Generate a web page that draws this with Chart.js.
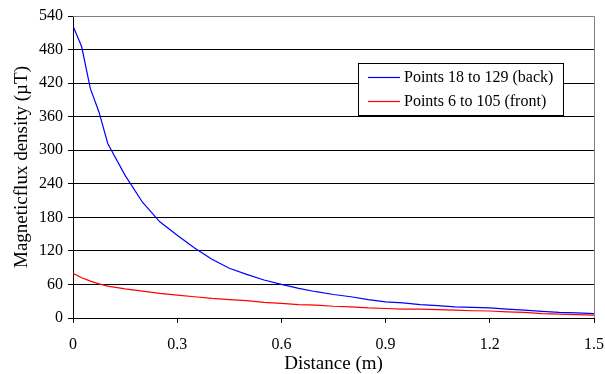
<!DOCTYPE html>
<html>
<head>
<meta charset="utf-8">
<script src="https://cdn.jsdelivr.net/npm/chart.js@4"></script>
<style>
  html, body { margin: 0; padding: 0; background: #fff; }
  #wrap { width: 605px; height: 374px; }
</style>
</head>
<body>
<div id="wrap"><canvas id="myChart" width="605" height="374"></canvas></div>
<script>
// values
const distance = [0, 0.025, 0.05, 0.075, 0.1, 0.15, 0.2, 0.25, 0.3, 0.35, 0.4, 0.45, 0.5, 0.55, 0.6, 0.65, 0.7, 0.75, 0.8, 0.85, 0.9, 0.95, 1.0, 1.05, 1.1, 1.15, 1.2, 1.25, 1.3, 1.35, 1.4, 1.45, 1.5];
const backValues = [522, 485, 410, 368, 312, 255, 207, 172, 148, 125, 105, 89, 78, 68, 60, 53, 47, 42, 38, 33, 29, 27, 24, 22, 20, 19, 18, 16, 14, 12, 10, 9, 8];
const frontValues = [80, 72, 66, 61, 57, 52, 48, 44, 41, 38, 35, 33, 31, 28, 26, 24, 23, 21, 20, 18, 17, 16, 16, 15, 14, 13, 12.5, 11, 10, 8, 7, 6, 5];
const seriesNames = ["Points 18 to 129 (back)", "Points 6 to 105 (front)"];
const seriesColors = ["#0000ff", "#ff0000"];
const yTicks = [0, 60, 120, 180, 240, 300, 360, 420, 480, 540];
const xTicks = [0, 0.3, 0.6, 0.9, 1.2, 1.5];

const font = "Liberation Serif";

function toPoints(vals) {
  return vals.map((v, i) => ({ x: distance[i], y: v }));
}

// frame on top/right and legend box inside the plot
const framePlugin = {
  id: "frame",
  afterDraw(chart) {
    const ctx = chart.ctx;
    const a = chart.chartArea;
    ctx.save();
    ctx.strokeStyle = "#808080";
    ctx.lineWidth = 1;
    ctx.beginPath();
    ctx.moveTo(a.left, Math.round(a.top) + 0.5);
    ctx.lineTo(Math.round(a.right) + 0.5, Math.round(a.top) + 0.5);
    ctx.lineTo(Math.round(a.right) + 0.5, a.bottom);
    ctx.stroke();

    // legend
    const bx = 358.5, by = 63.5, bw = 205, bh = 52;
    ctx.fillStyle = "#fff";
    ctx.fillRect(bx, by, bw, bh);
    ctx.strokeStyle = "#000";
    ctx.strokeRect(bx, by, bw, bh);
    ctx.font = "16px '" + font + "'";
    ctx.textBaseline = "middle";
    seriesNames.forEach((name, i) => {
      const yy = by + 14 + i * 24;
      ctx.strokeStyle = seriesColors[i];
      ctx.lineWidth = 1.2;
      ctx.beginPath();
      ctx.moveTo(368, yy);
      ctx.lineTo(400, yy);
      ctx.stroke();
      ctx.fillStyle = "#000";
      ctx.fillText(name, 404, yy);
    });
    ctx.restore();
  }
};

new Chart("myChart", {
  type: "line",
  data: {
    datasets: [
      { label: seriesNames[0], data: toPoints(backValues), borderColor: seriesColors[0], borderWidth: 1.2, pointRadius: 0, tension: 0 },
      { label: seriesNames[1], data: toPoints(frontValues), borderColor: seriesColors[1], borderWidth: 1.2, pointRadius: 0, tension: 0 }
    ]
  },
  options: {
    responsive: false,
    animation: false,
    layout: { padding: { top: 16, right: 11, left: 0, bottom: 0 } },
    plugins: { legend: { display: false }, tooltip: { enabled: false } },
    scales: {
      x: {
        type: "linear",
        min: 0, max: 1.5,
        afterBuildTicks: s => { s.ticks = xTicks.map(v => ({ value: v })); },
        afterFit: s => { s.height = 56; s.paddingLeft = 0; s.paddingRight = 0; },
        ticks: {
          color: "#000", font: { family: font, size: 16 }, padding: 12,
          maxRotation: 0, callback: v => String(+v.toFixed(1))
        },
        grid: { drawOnChartArea: false, drawTicks: true, tickLength: 5, tickColor: "#000" },
        border: { color: "#000", width: 1 },
        title: { display: true, text: "Distance (m)", color: "#000", font: { family: font, size: 19 }, padding: { top: 0, bottom: -1 } }
      },
      y: {
        min: 0, max: 540,
        afterBuildTicks: s => { s.ticks = yTicks.map(v => ({ value: v })); },
        afterFit: s => { s.width = 73; s.paddingTop = 0; s.paddingBottom = 0; },
        ticks: { color: "#000", font: { family: font, size: 16 }, padding: 5 },
        grid: { color: "#000", lineWidth: 1, drawTicks: true, tickLength: 5, tickColor: "#000" },
        border: { color: "#000", width: 1 },
        title: { display: true, text: "Magneticflux density (µT)", color: "#000", font: { family: font, size: 19 }, padding: { top: 11, bottom: 0 } }
      }
    }
  },
  plugins: [framePlugin]
});
</script>
</body>
</html>
